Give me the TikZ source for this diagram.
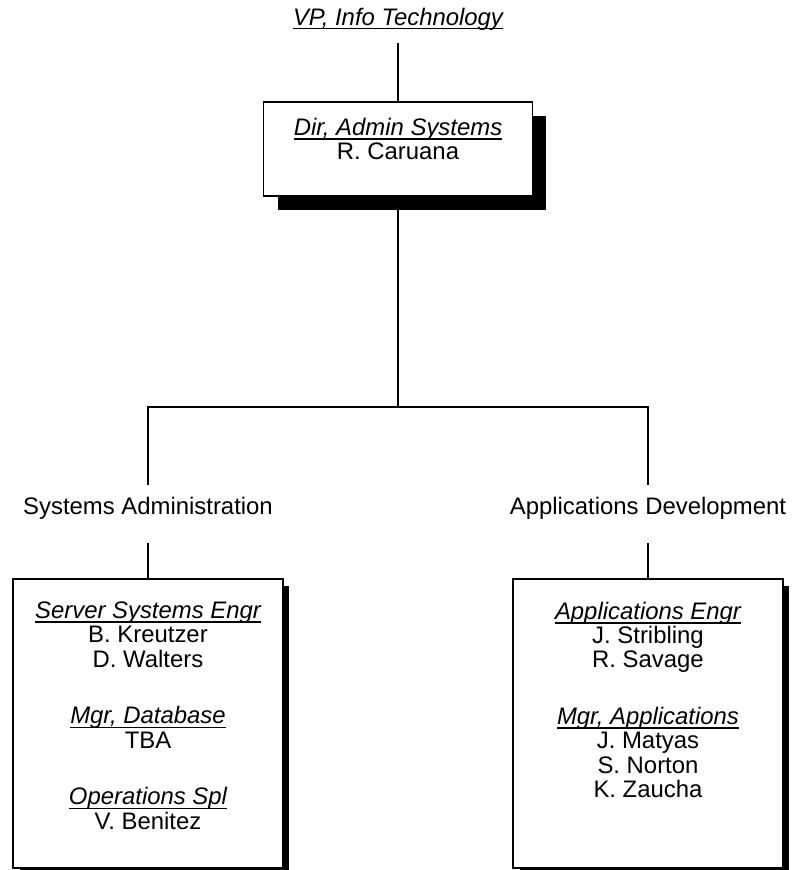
\documentclass[tikz,border=0pt]{standalone}
\usepackage{fontspec}
\setmainfont{Liberation Sans}
\usetikzlibrary{shadows}
\newcommand{\titl}[1]{\setbox0=\hbox{\itshape #1}\leavevmode\rlap{\rule[-2.4pt]{\wd0}{0.9pt}}\box0}

\begin{document}
\begin{tikzpicture}[x=0.02cm,y=-0.02cm,
        every node/.style={font=\fontsize{13.6}{13.8}\selectfont},
        conn/.style={line width=1.1pt},
        unitname/.style={inner sep=0pt},
        topbox/.style={draw,line width=1.1pt,fill=white,inner sep=0pt,
            drop shadow={shadow xshift=0.28cm,shadow yshift=-0.28cm,opacity=1,fill=black}},
        unitbox/.style={draw,line width=1.1pt,fill=white,inner sep=0pt,
            drop shadow={shadow xshift=0.13cm,shadow yshift=-0.13cm,opacity=1,fill=black}}]
        \useasboundingbox (0,0) rectangle (793,870);

        \coordinate (split) at (398,407);

        \node[unitname] (vp) at (398,19) {\titl{VP, Info Technology}};
        \node[topbox] (dir) at (398,149) {\begin{minipage}[c][1.88cm][t]{5.38cm}\centering
            \vspace*{0.32cm}\titl{Dir, Admin Systems}\\ R. Caruana\end{minipage}};

        \node[unitname] (sa) at (148,508) {Systems Administration};
        \node[unitname] (ad) at (648,508) {Applications Development};

        \node[unitbox] (sabox) at (148,723.5) {\begin{minipage}[c][5.78cm][t]{5.4cm}\centering
            \vspace*{0.46cm}\titl{Server Systems Engr}\\ B. Kreutzer\\ D. Walters\\[18.5pt]
            \titl{Mgr, Database}\\ TBA\\[18.5pt]
            \titl{Operations Spl}\\ V. Benitez\end{minipage}};
        \node[unitbox] (adbox) at (648,723.5) {\begin{minipage}[c][5.78cm][t]{5.4cm}\centering
            \vspace*{0.46cm}\titl{Applications Engr}\\ J. Stribling\\ R. Savage\\[18.5pt]
            \titl{Mgr, Applications}\\ J. Matyas\\ S. Norton\\ K. Zaucha\end{minipage}};

        \draw[conn,shorten <=0.26cm] (vp.south) -- (dir.north);
        \draw[conn] (dir.south) -- (split);
        \draw[conn,shorten >=0.24cm] (split) -| (sa.north);
        \draw[conn,shorten >=0.24cm] (split) -| (ad.north);
        \draw[conn,shorten <=0.48cm] (sa.south) -- (sabox.north);
        \draw[conn,shorten <=0.48cm] (ad.south) -- (adbox.north);
    \end{tikzpicture}
\end{document}
